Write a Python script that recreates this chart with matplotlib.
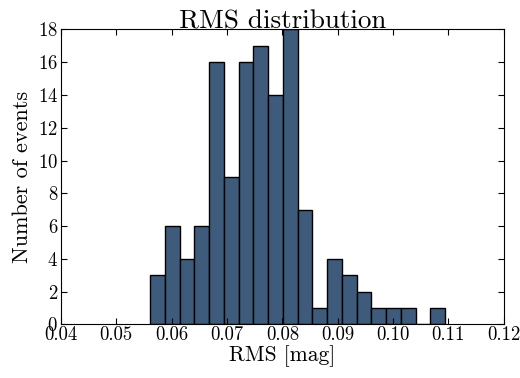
import numpy as np
import matplotlib
matplotlib.use("Agg")
import matplotlib.pyplot as plt

# histogram: 20 equal bins
bin_lo = 0.0561
bin_hi = 0.1094
counts = [3, 6, 4, 6, 16, 9, 16, 17, 14, 18, 7, 1, 4, 3, 2, 1, 1, 1, 0, 1]
xticks = [0.04, 0.05, 0.06, 0.07, 0.08, 0.09, 0.10, 0.11, 0.12]
yticks = [0, 2, 4, 6, 8, 10, 12, 14, 16, 18]

plt.rcParams['font.family'] = 'cmr10'
plt.rcParams['mathtext.fontset'] = 'cm'
plt.rcParams['axes.formatter.use_mathtext'] = True

fig = plt.figure(figsize=(5.2, 3.78), dpi=100)
ax = fig.add_axes([0.117, 0.142, 0.852, 0.780])

edges = np.linspace(bin_lo, bin_hi, len(counts) + 1)
ax.bar(edges[:-1], counts, width=np.diff(edges), align='edge',
       color='#3e5b7c', edgecolor='black', linewidth=1.0)

ax.set_xlim(0.04, 0.12)
ax.set_ylim(0, 18)
ax.set_xticks(xticks)
ax.set_xticklabels([f"{t:.2f}" for t in xticks])
ax.set_yticks(yticks)
ax.tick_params(direction='in', top=True, right=True, length=4, labelsize=13.5, pad=2)
ax.tick_params(axis='x', pad=1)

ax.set_xlabel('RMS [mag]', fontsize=15.5, labelpad=1)
ax.set_ylabel('Number of events', fontsize=16, labelpad=4)
ax.set_title('RMS distribution', fontsize=19.5, pad=1)

fig.savefig('out.png', dpi=100)
